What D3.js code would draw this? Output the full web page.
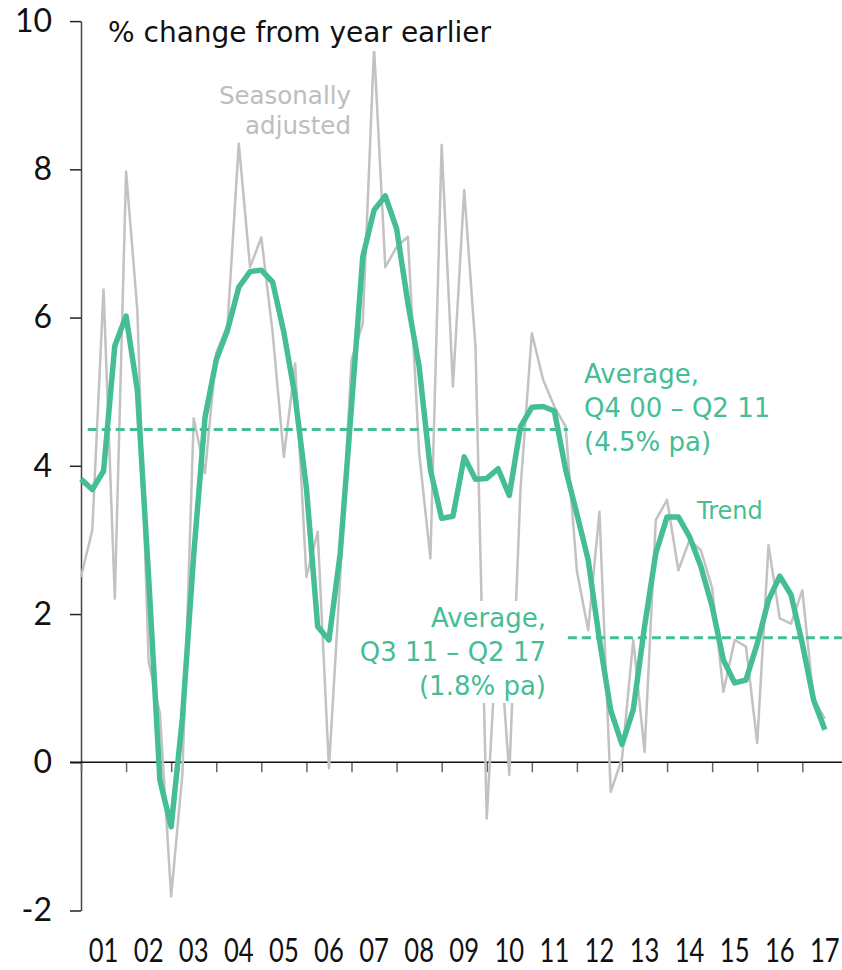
<!DOCTYPE html>
<html><head><meta charset="utf-8">
<script src="https://cdn.jsdelivr.net/npm/d3@7"></script>
<style>body{margin:0;background:#fff}svg{display:block}</style>
</head><body><svg id="c" width="842" height="970"></svg>
<script>
// ---- data ----
const firstPeriod = 2001.0; // Q4 2000 plotted at end of quarter
const trend = [3.82,3.68,3.93,5.62,6.02,5.02,2.5,-0.24,-0.87,0.6,2.8,4.65,5.43,5.83,6.41,6.62,6.64,6.48,5.8,4.93,3.7,1.83,1.65,2.82,4.8,6.82,7.45,7.64,7.2,6.2,5.34,3.95,3.29,3.32,4.12,3.82,3.83,3.96,3.6,4.53,4.79,4.8,4.74,3.95,3.35,2.73,1.65,0.7,0.24,0.71,1.83,2.82,3.31,3.31,3.04,2.64,2.1,1.38,1.07,1.11,1.6,2.19,2.51,2.26,1.6,0.84,0.44];
const seasonallyAdjusted = [2.5,3.13,6.38,2.21,7.97,6.1,1.36,0.66,-1.81,-0.15,4.64,3.9,5.52,5.9,8.35,6.68,7.08,5.8,4.12,5.38,2.5,3.11,-0.08,2.5,5.43,5.92,9.65,6.68,6.95,7.09,4.18,2.75,8.33,5.07,7.72,5.6,-0.76,2.0,-0.17,3.7,5.79,5.16,4.8,4.53,2.58,1.78,3.38,-0.4,0.05,1.65,0.14,3.27,3.54,2.59,3.0,2.86,2.35,0.95,1.65,1.56,0.26,2.93,1.94,1.87,2.32,0.85,0.59];
const yTicks = [-2,0,2,4,6,8,10];
const yearTicks = [2001,2002,2003,2004,2005,2006,2007,2008,2009,2010,2011,2012,2013,2014,2015,2016,2017];
const yearLabels = ["01","02","03","04","05","06","07","08","09","10","11","12","13","14","15","16","17"];
const avgValues = [4.49, 1.68];
const avgFrom = [2001.15, 2011.8];
const avgTo = [2011.8, 2017.9];
const avgLabels = [["Average,","Q4 00 – Q2 11","(4.5% pa)"],["Average,","Q3 11 – Q2 17","(1.8% pa)"]];

// ---- setup ----
const green = "#45bd95", grey = "#c2c2c2";
const font = "Lato, 'Noto Sans', sans-serif";
const tfont = "'DejaVu Sans', sans-serif";
const svg = d3.select("#c");
const x = d3.scaleLinear().domain([2001, 2017.88]).range([81, 842]);
const y = d3.scaleLinear().domain([-2, 10]).range([910.5, 21.1]);
const t = i => firstPeriod + i / 4;

// y axis
const ya = svg.append("g").attr("transform","translate(81,0)")
  .call(d3.axisLeft(y).tickValues(yTicks).tickSize(11).tickSizeOuter(0).tickPadding(18).tickFormat(d => String(d)));
ya.select(".domain").attr("stroke","#444").attr("stroke-width",1.5);
ya.selectAll(".tick line").attr("stroke","#222").attr("stroke-width",1.5);
ya.selectAll(".tick text").attr("font-family",font).attr("font-size",32).attr("fill","#111");

// x axis
const xa = svg.append("g").attr("transform",`translate(0,${y(0)})`)
  .call(d3.axisBottom(x).tickValues(yearTicks).tickSize(10).tickSizeOuter(0).tickFormat(""));
xa.select(".domain").remove();
xa.selectAll(".tick line").attr("stroke","#666").attr("stroke-width",1.5);
svg.append("line").attr("x1",70).attr("x2",842).attr("y1",y(0)).attr("y2",y(0))
  .attr("stroke","#111").attr("stroke-width",1.5);
svg.append("g").selectAll("text").data(yearTicks).join("text")
  .attr("transform",(d)=>`translate(${x(d+0.5)},962) scale(0.8,1)`)
  .attr("text-anchor","middle").attr("font-family",font).attr("font-size",32).attr("fill","#111")
  .text((d,i)=>yearLabels[i]);

// lines
const line = d3.line().x((d,i)=>x(t(i))).y(d=>y(d));
svg.append("path").datum(seasonallyAdjusted).attr("d",line)
  .attr("fill","none").attr("stroke",grey).attr("stroke-width",2.5).attr("stroke-linejoin","round");
avgValues.forEach((v,k)=>{
  svg.append("line").attr("x1",x(avgFrom[k])).attr("x2",x(avgTo[k])).attr("y1",y(v)).attr("y2",y(v))
    .attr("stroke",green).attr("stroke-width",3).attr("stroke-dasharray","9,5");
});
svg.append("path").datum(trend).attr("d",line)
  .attr("fill","none").attr("stroke",green).attr("stroke-width",5.5).attr("stroke-linejoin","round");

// labels with white backgrounds
function label(lines, xPos, y0, dy, anchor, size, color){
  const g = svg.append("g");
  const r = g.append("rect").attr("fill","#fff");
  g.selectAll("text").data(lines).join("text")
    .attr("x",xPos).attr("y",(d,i)=>y0+i*dy).attr("text-anchor",anchor)
    .attr("font-family",tfont).attr("font-size",size).attr("fill",color).text(d=>d);
  const bb = g.node().getBBox();
  r.attr("x",bb.x-3).attr("y",bb.y-2).attr("width",bb.width+6).attr("height",bb.height+4);
}
label(["% change from year earlier"],108,42,0,"start",28,"#111");
label(["Seasonally","adjusted"],351,104,30,"end",24.5,"#bdbdbd");
label(avgLabels[0],584,383,34,"start",26,green);
label(avgLabels[1],546,627,34,"end",26,green);
label(["Trend"],697,519,0,"start",24,green);
</script></body></html>
